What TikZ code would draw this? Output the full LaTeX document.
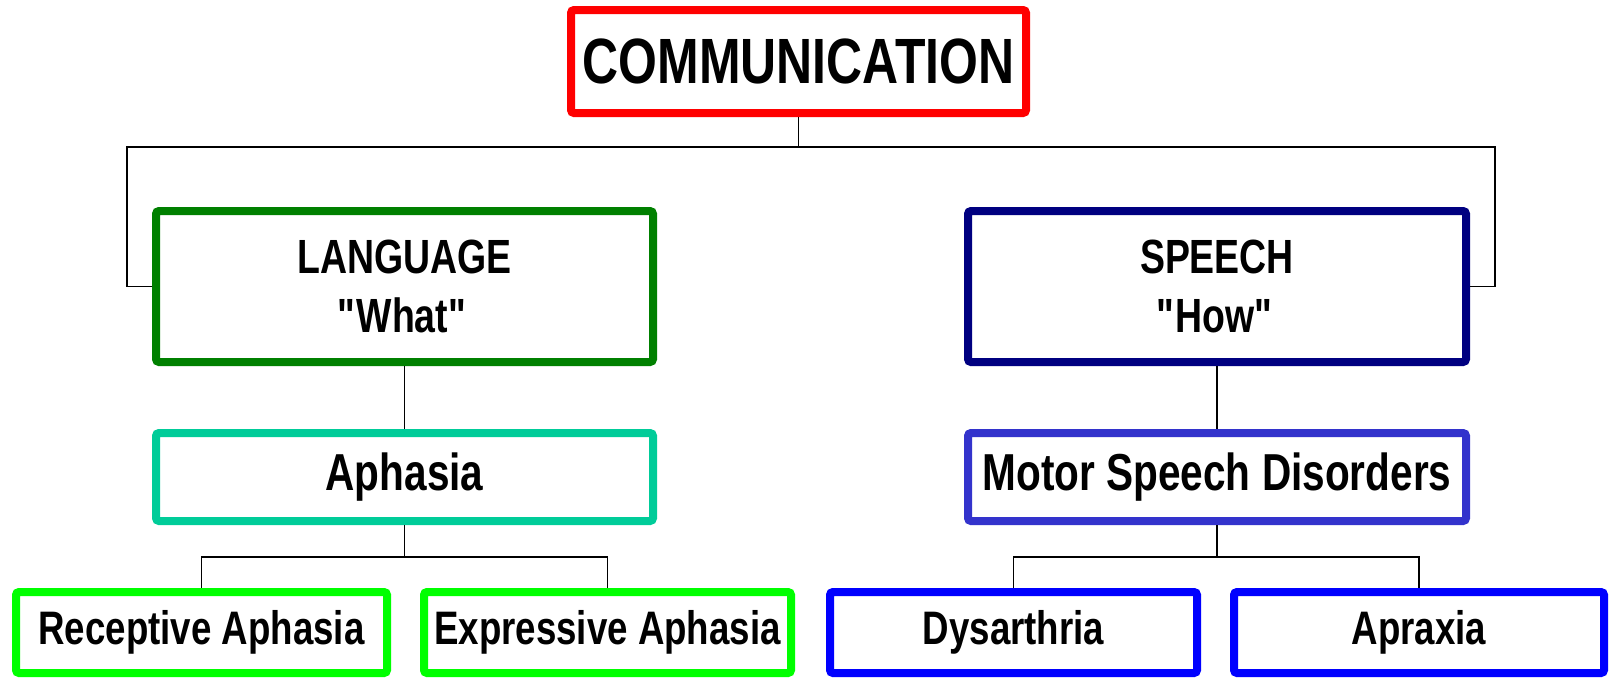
\documentclass[tikz,border=0pt]{standalone}
\usepackage{fontspec}
\setmainfont{Liberation Sans}[FakeStretch=0.78]
\usetikzlibrary{positioning}

\definecolor{commred}{HTML}{FF0000}
\definecolor{langgreen}{HTML}{008000}
\definecolor{speechblue}{HTML}{000080}
\definecolor{aphteal}{HTML}{00CC99}
\definecolor{motorblue}{HTML}{3333CC}
\definecolor{leafgreen}{HTML}{00FF00}
\definecolor{leafblue}{HTML}{0000FF}

\tikzset{
  box/.style={draw, fill=white, line width=8pt, rounded corners=3pt,
    align=center, inner sep=0pt},
  link/.style={line width=1.6pt}
}

\begin{document}
\begin{tikzpicture}[x=1pt,y=-1pt]
    \useasboundingbox (0,0) rectangle (1610,678);
    \node[box, draw=commred, minimum width=455pt, minimum height=103pt,
      font=\bfseries\fontsize{64}{70}\selectfont] (comm) at (798.5,61.5) {COMMUNICATION};
    \node[box, draw=langgreen, minimum width=497pt, minimum height=151pt,
      font=\bfseries\fontsize{48}{59}\selectfont] (lang) at (404.5,286.5)
      {LANGUAGE\\\textquotedbl\kern-4pt What\textquotedbl};
    \node[box, draw=speechblue, minimum width=498pt, minimum height=151pt,
      font=\bfseries\fontsize{48}{59}\selectfont] (speech) at (1217,286.5)
      {SPEECH\\\textquotedbl\kern-4pt How\textquotedbl};
    \node[box, draw=aphteal, minimum width=497pt, minimum height=88pt,
      font=\bfseries\fontsize{52}{60}\selectfont] (aph) at (404.5,477) {Aphasia};
    \node[box, draw=motorblue, minimum width=498pt, minimum height=88pt,
      font=\bfseries\fontsize{52}{60}\selectfont] (motor) at (1217,477) {Motor Speech Disorders};
    \node[box, draw=leafgreen, minimum width=371pt, minimum height=81pt,
      font=\bfseries\fontsize{47}{56}\selectfont] (recep) at (201.5,632.5) {Receptive Aphasia};
    \node[box, draw=leafgreen, minimum width=367pt, minimum height=81pt,
      font=\bfseries\fontsize{47}{56}\selectfont] (expr) at (607.5,632.5) {Expressive Aphasia};
    \node[box, draw=leafblue, minimum width=367pt, minimum height=81pt,
      font=\bfseries\fontsize{47}{56}\selectfont] (dys) at (1013.5,632.5) {Dysarthria};
    \node[box, draw=leafblue, minimum width=370pt, minimum height=81pt,
      font=\bfseries\fontsize{47}{56}\selectfont] (aprax) at (1419,632.5) {Apraxia};
    \coordinate (hub) at (798.5,147);
    \draw[link] (comm.south) -- (hub);
    \draw[link] (lang.west) -- ++(-25,0) |- (hub);
    \draw[link] (speech.east) -- ++(25,0) |- (hub);
    \draw[link] (lang.south) -- (aph.north);
    \draw[link] (speech.south) -- (motor.north);
    \draw[link] (aph.south) -- ++(0,32) -| (recep.north);
    \draw[link] (aph.south) -- ++(0,32) -| (expr.north);
    \draw[link] (motor.south) -- ++(0,32) -| (dys.north);
    \draw[link] (motor.south) -- ++(0,32) -| (aprax.north);
  \end{tikzpicture}
\end{document}
